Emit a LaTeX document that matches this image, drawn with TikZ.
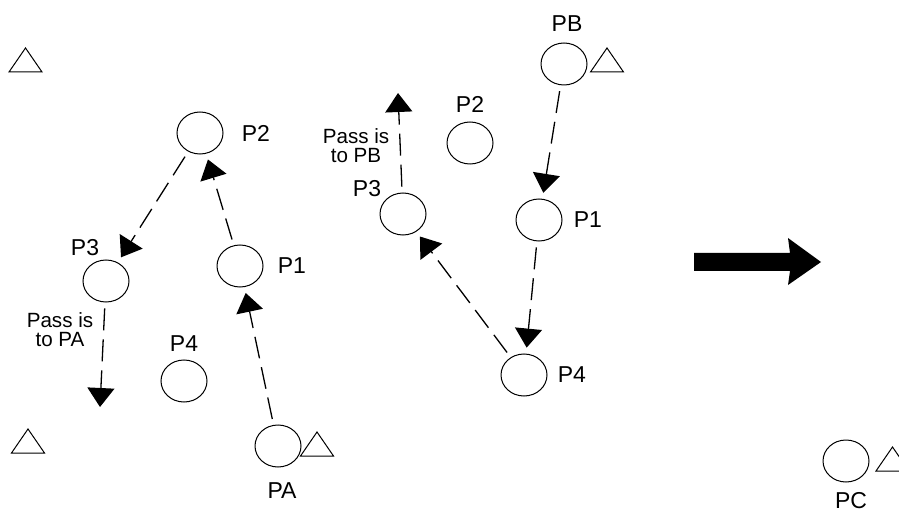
\documentclass[tikz,border=0pt]{standalone}
\usepackage{fontspec}
\setmainfont{Liberation Sans}
\usetikzlibrary{shapes.geometric,arrows.meta,positioning}

\tikzset{
  player/.style={ellipse,draw,line width=0.5pt,inner sep=0pt,minimum width=23pt,minimum height=21pt},
  tag/.style={inner sep=0pt,font=\fontsize{11.5}{13}\selectfont},
  note/.style={inner sep=0pt,align=center,font=\fontsize{10.3}{9.6}\selectfont},
  pass/.style={-{Triangle[length=9.5pt,width=13.5pt]},line width=0.65pt,dash pattern=on 11pt off 4.5pt,shorten <=3pt,shorten >=3pt},
  cone/.pic={\draw[line width=0.5pt] (-8.25pt,0pt) -- (8.25pt,0pt) -- (0pt,12pt) -- cycle;}
}

\begin{document}
\begin{tikzpicture}[x=0.5pt,y=-0.5pt]
    \useasboundingbox (0,0) rectangle (899,513);

    % first field
    \node[player] (a_2) at (200,133) {};
    \node[player] (a_3) at (106,281) {};
    \node[player] (a_1) at (240,266) {};
    \node[player] (a_4) at (184,381) {};
    \node[player] (pa)  at (278,446) {};
    \node[tag] (a_2t) [right=9pt of a_2] {P2};
    \node[tag] (a_1t) [right=7pt of a_1] {P1};
    \node[tag] (a_4t) [above=4pt of a_4] {P4};
    \node[tag] (a_3t) at (85,248) {P3};
    \node[tag] (pat) [below=7.5pt of pa,xshift=2pt] {PA};
    \node[note] (a_note) at (60,330) {Pass is\\to PA};
    \coordinate (a_out) at (100,407);
    \pic at (25.5,72) {cone};
    \pic at (28,453) {cone};
    \pic at (317,456) {cone};

    % second field
    \node[player] (pb)  at (564,64) {};
    \node[player] (b_2) at (470,143) {};
    \node[player] (b_3) at (403,214) {};
    \node[player] (b_1) at (539,220) {};
    \node[player] (b_4) at (524,375) {};
    \node[tag] (pbt) [above=5.5pt of pb,xshift=1.5pt] {PB};
    \node[tag] (b_2t) [above=4.5pt of b_2] {P2};
    \node[tag] (b_1t) [right=5.5pt of b_1] {P1};
    \node[tag] (b_4t) [right=5pt of b_4] {P4};
    \node[tag] (b_3t) at (367,189) {P3};
    \node[note] (b_note) at (356,146) {Pass is\\to PB};
    \coordinate (b_out) at (398,93);
    \pic at (607,72) {cone};

    % result
    \fill (694,253) -- (790,253) -- (788,238) -- (821,262) -- (788,285) -- (790,271) -- (694,271) -- cycle;
    \node[player] (pc) at (846,461) {};
    \node[tag] (pct) [below=5pt of pc,xshift=2.5pt] {PC};
    \pic at (892.5,471) {cone};

    \path[pass]
    (a_2) edge (a_3)
    (a_1) edge (a_2)
    (pa) edge (a_1)
    (a_3) edge[shorten >=0pt] (a_out)
    (pb) edge (b_1)
    (b_1) edge (b_4)
    (b_4) edge (b_3)
    (b_3) edge[shorten >=0pt] (b_out);

\end{tikzpicture}
\end{document}
